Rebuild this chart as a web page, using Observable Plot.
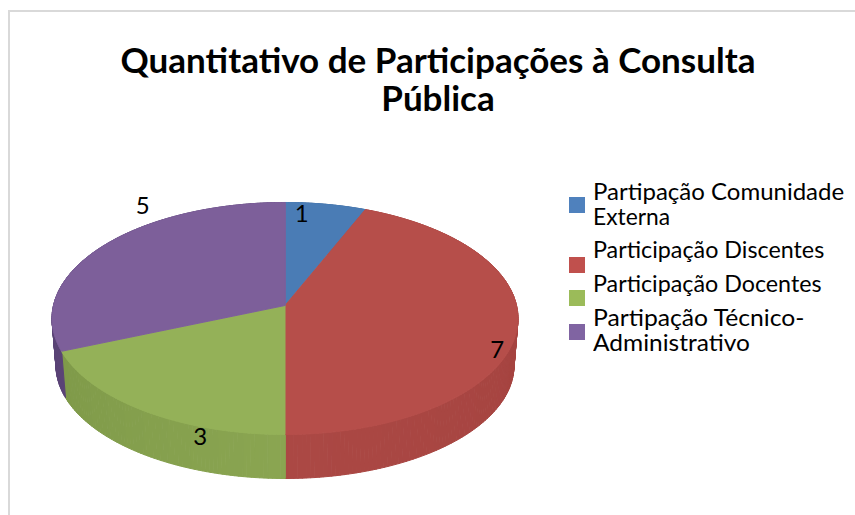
<!DOCTYPE html>
<html lang="pt">
<head>
<meta charset="utf-8">
<script src="https://cdn.jsdelivr.net/npm/d3@7"></script>
<script src="https://cdn.jsdelivr.net/npm/@observablehq/plot@0.6"></script>
<style>
html,body{margin:0;padding:0;background:#fff;}
#chart{position:relative;width:855px;height:515px;overflow:hidden;font-family:Lato,"Open Sans",sans-serif;color:#000;}
#frame{position:absolute;left:8px;top:10px;right:-4px;bottom:-4px;border:2px solid #d9d9d9;}
#title{position:absolute;left:88px;top:40px;width:700px;text-align:center;font-weight:700;font-size:35px;line-height:38px;}
.lg{position:absolute;left:593px;font-size:24px;line-height:26px;width:262px;white-space:nowrap;transform-origin:left center;}
.sw{position:absolute;left:569px;width:16px;height:16px;}
svg{position:absolute;left:0;top:0;background:transparent;}
</style>
</head>
<body>
<div id="chart">
  <div id="frame"></div>
  <div id="title">Quantitativo de Participações à Consulta<br>Pública</div>
</div>
<script>
const categories = ["Partipação Comunidade Externa","Participação Discentes","Participação Docentes","Partipação Técnico-Administrativo"];
const legendLines = [["Partipação Comunidade","Externa"],["Participação Discentes"],["Participação Docentes"],["Partipação Técnico-","Administrativo"]];
const values = [1,7,3,5];
const topColors = ["#4a7cb5","#b64e4a","#94b158","#7d5f9a"];
const wallFrom = ["#3f6a9c","#a03f3c","#8aa551","#5a4376"];
const wallTo = ["#3f6a9c","#ab4844","#7f9a49","#5c4678"];
const legendColors = ["#4f81bd","#c0504d","#9bbb59","#8064a2"];

// Perspective of the disc: the pie's centre sits above the ellipse's centre.
const tilt = 0.112, squeeze = Math.sqrt(1 - tilt * tilt);
const rim = (a) => {
  const u = Math.sin(a), v = Math.cos(a), k = 1 + tilt * v;
  return [u * squeeze / k, (v + tilt) / k];
};
const lower = ([u, v]) => [u * 229 / 233, (v * 113 - 47) / 116];

const arcs = d3.pie().sort(null)(values);
const arcPoints = (d) => {
  const n = Math.ceil((d.endAngle - d.startAngle) * 60);
  return d3.range(n + 1).map(i => rim(d.startAngle + (d.endAngle - d.startAngle) * i / n));
};
const faces = arcs.map(d => [[0, tilt], ...arcPoints(d)]);

const poly = (pts, color) => Plot.line(pts, {x: d => d[0], y: d => d[1], fill: color, stroke: color, strokeWidth: 1, curve: "linear-closed"});

// The wall is a run of small quads, so its outline follows the cylinder's silhouette.
const wallMarks = arcs.flatMap((d, i) => {
  const p = arcPoints(d);
  const shade = d3.interpolateRgb(wallFrom[i], wallTo[i]);
  return d3.range(p.length - 1).map(j =>
    poly([p[j], p[j + 1], lower(p[j + 1]), lower(p[j])], shade(j / (p.length - 2))));
});

// Label placement relative to each slice's rim midpoint
const labelShift = [[-24,10],[-20,22],[57,27],[39,-39]];
const labelMarks = arcs.map((d, i) => {
  const m = rim((d.startAngle + d.endAngle) / 2);
  return Plot.text([values[i]], {x: () => m[0], y: () => m[1], text: d => String(d), dx: labelShift[i][0], dy: labelShift[i][1], fontSize: 24, fill: "#000", fontFamily: "Lato"});
});

const svg = Plot.plot({
  width: 855, height: 515, margin: 0,
  x: {domain: [-1, 1], range: [51.5, 517.5], axis: null},
  y: {domain: [-1, 1], range: [434, 202], axis: null},
  marks: [
    ...wallMarks,
    ...faces.map((f, i) => poly(f, topColors[i])),
    ...labelMarks
  ]
});
const chart = document.getElementById("chart");
chart.appendChild(svg);

const lineTops = [[178,203],[236],[270],[304,329]];
const lineStretch = [[1,0.95],[0.971],[0.97],[1.029,1.02]];
const swatchTops = [197,257,290,324];
legendLines.forEach((lines, i) => {
  const s = document.createElement("div");
  s.className = "sw"; s.style.top = swatchTops[i] + "px"; s.style.background = legendColors[i];
  chart.appendChild(s);
  lines.forEach((t, j) => {
    const e = document.createElement("div");
    e.className = "lg"; e.style.top = lineTops[i][j] + "px"; e.style.transform = `scaleX(${lineStretch[i][j]})`; e.textContent = t;
    chart.appendChild(e);
  });
});
</script>
</body>
</html>
